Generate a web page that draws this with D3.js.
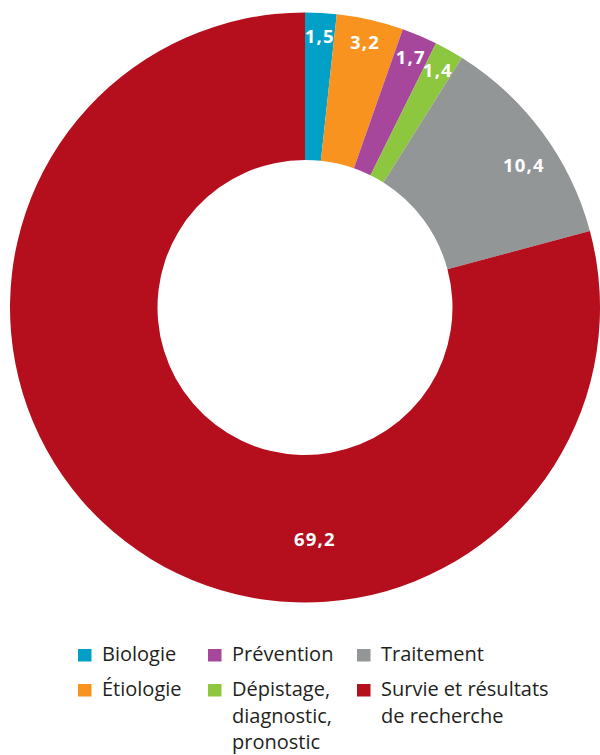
<!DOCTYPE html>
<html lang="fr">
<head>
<meta charset="utf-8">
<script src="https://cdn.jsdelivr.net/npm/d3@7"></script>
<style>
  html, body { margin: 0; padding: 0; background: #fff; }
  svg { display: block; }
</style>
</head>
<body>
<svg id="chart" width="600" height="755"></svg>
<script>
// Répartition du financement par domaine de recherche (%)
const categories = [
  "Biologie",
  "Étiologie",
  "Prévention",
  "Dépistage, diagnostic, pronostic",
  "Traitement",
  "Survie et résultats de recherche"
];
const values = [1.5, 3.2, 1.7, 1.4, 10.4, 69.2];
const legendLines = [
  ["Biologie"],
  ["Étiologie"],
  ["Prévention"],
  ["Dépistage,", "diagnostic,", "pronostic"],
  ["Traitement"],
  ["Survie et résultats", "de recherche"]
];
const colors = ["#029fc6", "#f7931e", "#a7479b", "#8dc63f", "#929696", "#b50e1d"];

const data = categories.map((c, i) => ({ category: c, value: values[i], lines: legendLines[i] }));

const svg = d3.select("#chart");
const cx = 305, cy = 307.5;
const outerR = 295, innerR = 147.5;

const color = d3.scaleOrdinal().domain(categories).range(colors);
const fmt = v => d3.format(".1f")(v).replace(".", ",");

const pie = d3.pie().value(d => d.value).sort(null);
const arcs = pie(data);
const arc = d3.arc().innerRadius(innerR).outerRadius(outerR);

const g = svg.append("g").attr("transform", `translate(${cx},${cy})`);

g.selectAll("path.slice")
  .data(arcs)
  .join("path")
  .attr("class", "slice")
  .attr("d", arc)
  .attr("fill", d => color(d.data.category));

// Label placement: fraction along the slice's sweep and radius from the centre
const labelSpot = {
  "Traitement": { t: 0.58, r: 261 },
  "Survie et résultats de recherche": { t: 0.36, r: 232 }
};
const defaultSpot = { t: 0.5, r: 272 };

g.selectAll("text.value")
  .data(arcs)
  .join("text")
  .attr("class", "value")
  .each(function (d) {
    const s = labelSpot[d.data.category] || defaultSpot;
    const a = d.startAngle + (d.endAngle - d.startAngle) * s.t;
    d3.select(this)
      .attr("x", Math.sin(a) * s.r)
      .attr("y", -Math.cos(a) * s.r);
  })
  .attr("dy", "0.36em")
  .attr("text-anchor", "middle")
  .attr("fill", "#fff")
  .attr("font-family", "'Open Sans', sans-serif")
  .attr("font-weight", 700)
  .attr("font-size", 18.5)
  .attr("letter-spacing", 1.2)
  .text(d => fmt(d.data.value));

// Legend: two rows per column, filled column by column
const colX = [78, 208, 357];
const rowY = [649, 684];
const lineH = 26.5;

const legend = svg.append("g")
  .attr("font-family", "'Open Sans', sans-serif")
  .attr("font-size", 20)
  .attr("fill", "#231f20");

const items = legend.selectAll("g.item")
  .data(data)
  .join("g")
  .attr("class", "item")
  .attr("transform", (d, i) => `translate(${colX[Math.floor(i / 2)]},${rowY[i % 2]})`);

items.append("rect")
  .attr("width", 13.5)
  .attr("height", 12.5)
  .attr("fill", d => color(d.category));

items.append("text")
  .attr("x", 24)
  .attr("y", 12)
  .selectAll("tspan")
  .data(d => d.lines)
  .join("tspan")
  .attr("x", 24)
  .attr("dy", (d, i) => i === 0 ? 0 : lineH)
  .text(d => d);
</script>
</body>
</html>
